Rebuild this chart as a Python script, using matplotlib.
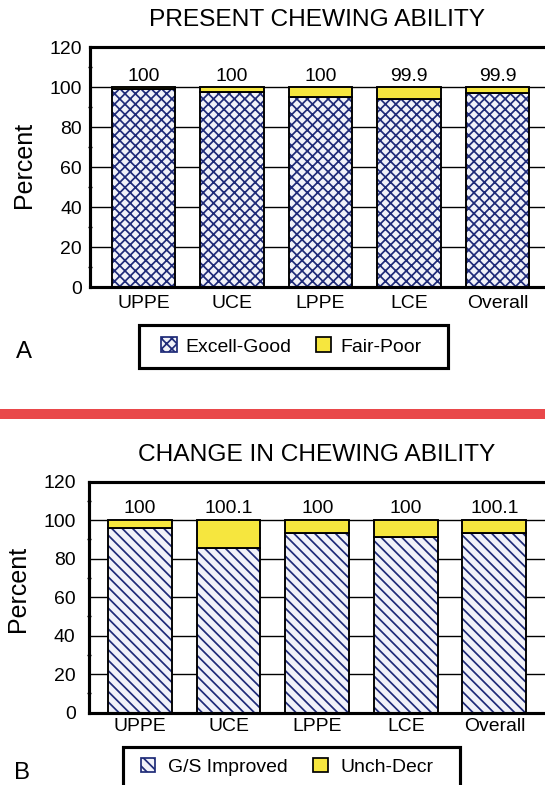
import matplotlib
matplotlib.use("Agg")
import matplotlib.pyplot as plt
from matplotlib.patches import Patch, Rectangle
import numpy as np

plt.rcParams['font.family'] = ['Liberation Sans', 'DejaVu Sans']
plt.rcParams['hatch.linewidth'] = 1.0

# data
groups = ['UPPE', 'UCE', 'LPPE', 'LCE', 'Overall']

excell_good = [99.3, 97.5, 95.0, 94.0, 97.0]
fair_poor = [0.7, 2.5, 5.0, 5.9, 2.9]
present_totals = ['100', '100', '100', '99.9', '99.9']

gs_improved = [96.0, 85.3, 93.5, 91.3, 93.4]
unch_decr = [4.0, 14.8, 6.5, 8.7, 6.7]
change_totals = ['100', '100.1', '100', '100', '100.1']

W, H, DPI = 545, 785, 125
NAVY = '#1f2b78'
LIGHT = '#f1f2f9'
YELLOW = '#f6e63e'

fig = plt.figure(figsize=(W / DPI, H / DPI), dpi=DPI)


def px_axes(left, top, bottom, right):
    # axes rectangle given in pixels from the top-left corner
    return fig.add_axes([left / W, 1 - bottom / H, (right - left) / W, (bottom - top) / H])


def draw_panel(ax, low, high, totals, hatch, step, x0, tickpad):
    x = np.arange(len(groups))
    ax.set_axisbelow(True)
    ax.bar(x, low, width=0.72, color=LIGHT, edgecolor=NAVY, hatch=hatch, linewidth=0, zorder=2)
    ax.bar(x, low, width=0.72, fill=False, edgecolor='black', linewidth=1.1, zorder=3)
    ax.bar(x, high, width=0.72, bottom=low, color=YELLOW, edgecolor='black', linewidth=1.1, zorder=3)
    tops = np.array(low) + np.array(high)
    for xi, t, lab in zip(x, tops, totals):
        ax.annotate(lab, (xi, t), xytext=(0, 1.5), textcoords='offset points',
                    ha='center', va='bottom', fontsize=11.2)
    ax.set_ylim(0, 120)
    ax.set_xlim(x0, x0 + step)
    ax.set_yticks(range(0, 121, 20))
    ax.set_yticks(range(10, 120, 20), minor=True)
    ax.set_xticks(x)
    ax.set_xticklabels(groups)
    ax.yaxis.grid(True, color='black', linewidth=0.8)
    ax.tick_params(axis='y', which='major', length=0, pad=tickpad, labelsize=11.2)
    ax.tick_params(axis='y', which='minor', length=2.5, width=0.8, direction='inout')
    ax.tick_params(axis='x', length=0, pad=4.5, labelsize=11.2)
    for s in ax.spines.values():
        s.set_linewidth(1.8)
    ax.spines['right'].set_visible(False)


# panel A
axA = px_axes(90.4, 47.3, 287.3, 600)
draw_panel(axA, excell_good, fair_poor, present_totals, 'xxxx', (600 - 90.4) / 88.5, -0.6, 5.0)
fig.text(317 / W, 1 - 20 / H, 'PRESENT CHEWING ABILITY', ha='center', va='center', fontsize=14.1)
fig.text(24 / W, 1 - 165 / H, 'Percent', rotation=90, ha='center', va='center', fontsize=14.4)
fig.text(24 / W, 1 - 352 / H, 'A', ha='center', va='center', fontsize=13.8)

legA = fig.legend(handles=[Patch(facecolor=LIGHT, edgecolor=NAVY, hatch='xxxx'),
                           Patch(facecolor=YELLOW, edgecolor='black')],
                  labels=['Excell-Good', 'Fair-Poor'], loc='center',
                  bbox_to_anchor=(291 / W, 1 - 346.5 / H), ncol=2, frameon=False,
                  fontsize=11.2, handlelength=0.82, handleheight=0.82,
                  handletextpad=0.45, columnspacing=1.25, borderpad=0)
fig.patches.append(Rectangle((139 / W, 1 - 368 / H), (448 - 139) / W, 43 / H,
                             transform=fig.transFigure, fill=False, edgecolor='black',
                             linewidth=1.8))

# red separator
fig.patches.append(Rectangle((0, 1 - 419 / H), 1, 10 / H, transform=fig.transFigure,
                             facecolor='#e9484a', edgecolor='none'))

# panel B
axB = px_axes(88.6, 481.5, 712.7, 600)
draw_panel(axB, gs_improved, unch_decr, change_totals, '\\\\\\\\', (600 - 88.6) / 88.6, -0.58, 7.5)
fig.text(317 / W, 1 - 455 / H, 'CHANGE IN CHEWING ABILITY', ha='center', va='center', fontsize=14.1)
axB.tick_params(axis='x', pad=3)
fig.text(18 / W, 1 - 589 / H, 'Percent', rotation=90, ha='center', va='center', fontsize=14.4)
fig.text(22 / W, 1 - 773 / H, 'B', ha='center', va='center', fontsize=13.8)

legB = fig.legend(handles=[Patch(facecolor=LIGHT, edgecolor=NAVY, hatch='\\\\\\\\'),
                           Patch(facecolor=YELLOW, edgecolor='black')],
                  labels=['G/S Improved', 'Unch-Decr'], loc='center',
                  bbox_to_anchor=(287 / W, 1 - 766.7 / H), ncol=2, frameon=False,
                  fontsize=11.2, handlelength=0.75, handleheight=0.75,
                  handletextpad=0.65, columnspacing=1.3, borderpad=0)
fig.patches.append(Rectangle((123 / W, 1 - 790 / H), (460 - 123) / W, 43 / H,
                             transform=fig.transFigure, fill=False, edgecolor='black',
                             linewidth=1.8))

fig.savefig('out.png', dpi=DPI)
